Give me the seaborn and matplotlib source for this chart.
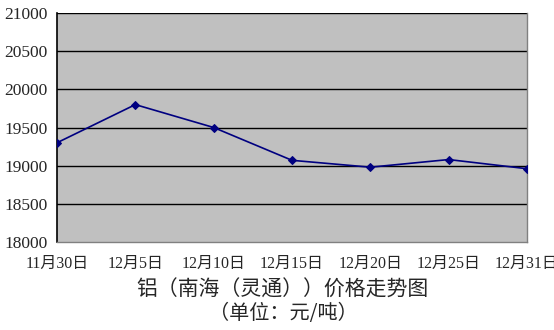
import matplotlib
matplotlib.use("Agg")
import matplotlib.pyplot as plt
import seaborn as sns
import pandas as pd

dates = ["11月30日", "12月5日", "12月10日", "12月15日", "12月20日", "12月25日", "12月31日"]
prices = [19300, 19800, 19500, 19070, 18980, 19080, 18960]
yticks = [18000, 18500, 19000, 19500, 20000, 20500, 21000]
title1 = "铝（南海（灵通））价格走势图"
title2 = "（单位：元/吨）"

sns.set_style("white")
plt.rcParams['font.family'] = ['Liberation Serif', 'Noto Sans CJK SC', 'DejaVu Sans']

df = pd.DataFrame({"x": range(len(dates)), "price": prices})

fig = plt.figure(figsize=(5.54, 3.3), dpi=100)
ax = fig.add_axes([57/554, 1-242/330, (527-57)/554, (242-13)/330])
ax.set_facecolor("#c0c0c0")

for y in yticks[1:]:
    ax.axhline(y, color="black", lw=1, zorder=1)

sns.lineplot(data=df, x="x", y="price", ax=ax, color="#000080", lw=1.2,
             marker="D", markersize=4.5, markeredgecolor="#000080", zorder=3)

ax.set_xlim(0, len(dates) - 1)
ax.set_ylim(18000, 21000)
ax.set_yticks(yticks)
ax.set_yticklabels([str(v) for v in yticks], fontsize=12.5)
ax.set_xticks(range(len(dates)))
ax.set_xticklabels(dates, fontsize=11.5)
ax.set_xlabel("")
ax.set_ylabel("")
ax.tick_params(axis="y", length=0, pad=7)
ax.tick_params(axis="x", length=5, color="#808080", direction="in", pad=10)

for s in ["top", "right", "bottom"]:
    ax.spines[s].set_color("#808080")
    ax.spines[s].set_linewidth(1)
ax.spines["left"].set_color("black")
ax.spines["left"].set_linewidth(1.2)
ax.spines["top"].set_visible(False)

fig.text(282/554, 1-290/330, title1, ha="center", va="center", fontsize=15,
         family=['Noto Sans CJK SC', 'DejaVu Sans'])
fig.text(283/554, 1-314/330, title2, ha="center", va="center", fontsize=14.5,
         family=['Noto Sans CJK SC', 'DejaVu Sans'])

fig.savefig("out.png", dpi=100)
